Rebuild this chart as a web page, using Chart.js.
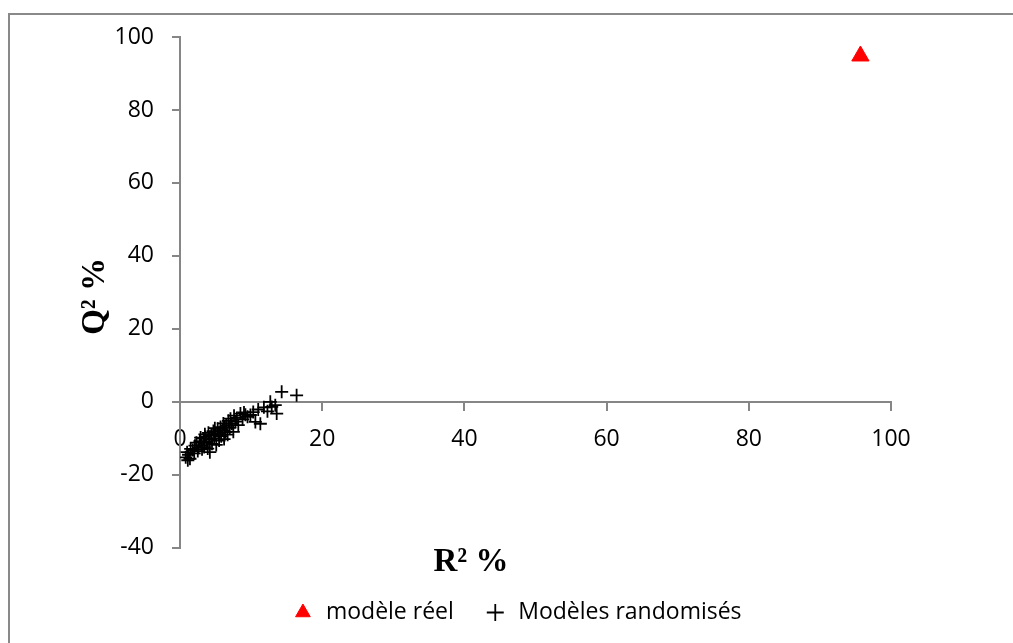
<!DOCTYPE html>
<html>
<head>
<meta charset="utf-8">
<script src="https://cdn.jsdelivr.net/npm/chart.js@4.4.1/dist/chart.umd.min.js"></script>
<style>
  html, body { margin: 0; padding: 0; background: #fff; overflow: hidden; }
  #frame { position: absolute; left: 8px; top: 13px; width: 1200px; height: 800px; border: 2px solid #898989; }
  #wrap { position: absolute; left: 0; top: 0; width: 1013px; height: 643px; }
</style>
</head>
<body>
<div id="frame"></div>
<div id="wrap"><canvas id="chart" width="1013" height="643"></canvas></div>
<script>
// real model (R2 %, Q2 %)
const realModel = [{ x: 95.7, y: 94.8 }];

// randomised models
const randR2 = [0.8, 1.0, 1.1, 1.2, 1.5, 1.4, 1.8, 2.0, 2.1, 2.3, 2.5, 2.6, 2.8, 3.0, 3.1, 3.3,
  3.4, 3.6, 3.7, 3.9, 4.0, 4.1, 4.2, 4.4, 4.5, 4.7, 4.8, 5.0, 5.1, 5.3, 5.4, 5.5,
  5.7, 5.8, 6.0, 6.1, 6.2, 6.4, 6.5, 6.7, 6.8, 7.0, 7.1, 7.3, 7.5, 7.6, 7.8, 8.0,
  8.2, 8.5, 8.8, 9.0, 9.2, 9.5, 9.9, 10.3, 10.6, 11.0, 11.3, 11.8, 12.3, 12.7, 12.9,
  13.4, 13.6, 14.3, 16.4, 2.9, 3.5, 4.9, 5.6, 6.3];
const randQ2 = [-15.2, -13.8, -16.0, -14.5, -12.9, -15.6, -13.2, -14.1, -12.0, -11.2, -13.5, -12.6, -10.8, -11.9, -13.0, -10.1,
  -12.4, -9.6, -11.0, -12.8, -8.5, -10.4, -13.8, -9.2, -11.5, -8.0, -10.0, -9.0, -11.8, -7.4, -8.8, -10.6,
  -6.9, -9.4, -7.8, -5.9, -10.2, -8.3, -6.5, -9.0, -5.2, -7.1, -4.6, -6.0, -8.2, -3.8, -5.4, -4.4,
  -6.4, -3.2, -4.8, -2.9, -3.5, -4.1, -3.6, -2.8, -5.5, -2.1, -6.0, -1.5, -2.6, 0.0, -1.4,
  -0.9, -3.2, 2.75, 1.8, -9.8, -8.9, -7.2, -8.6, -7.0];
const randModels = randR2.map((r, i) => ({ x: r, y: randQ2[i] }));

const xTicks = [0, 20, 40, 60, 80, 100];
const yTicks = [-40, -20, 0, 20, 40, 60, 80, 100];

const axisGray = '#868686';
const tickFont = { family: '"Open Sans", sans-serif', size: 23 };

// axis titles drawn by hand so they sit where Excel put them,
// and the legend nudged right to sit under the middle of the frame
const axisTitles = {
  id: 'axisTitles',
  afterLayout(chart) {
    chart.legend.left += 71;
    chart.legend.right += 71;
  },
  afterDraw(chart) {
    const { ctx, chartArea } = chart;
    ctx.save();
    ctx.fillStyle = '#000';
    ctx.font = 'bold 33px "Liberation Serif", serif';
    ctx.textAlign = 'center';
    ctx.textBaseline = 'middle';
    ctx.fillText('R² %', chartArea.left + 291, chartArea.bottom + 15);
    ctx.translate(95, (chartArea.top + chartArea.bottom) / 2 + 4);
    ctx.rotate(-Math.PI / 2);
    ctx.fillText('Q² %', 0, 0);
    ctx.restore();
  }
};

new Chart(document.getElementById('chart'), {
  type: 'scatter',
  data: {
    datasets: [
      {
        label: 'modèle réel',
        data: realModel,
        pointStyle: 'triangle',
        pointRadius: 10,
        backgroundColor: '#ff0000',
        borderColor: '#ff0000',
        borderWidth: 1
      },
      {
        label: 'Modèles randomisés',
        data: randModels,
        pointStyle: 'cross',
        pointRadius: 6.5,
        backgroundColor: '#000',
        borderColor: '#000',
        borderWidth: 1.8
      }
    ]
  },
  options: {
    responsive: false,
    animation: false,
    layout: { padding: { left: 0, right: 122, top: 37, bottom: 9 } },
    scales: {
      x: {
        type: 'linear',
        position: { y: 0 },
        min: 0,
        max: 100,
        afterBuildTicks: (s) => { s.ticks = xTicks.map(v => ({ value: v })); },
        grid: { drawOnChartArea: false, color: axisGray, lineWidth: 2, tickLength: 8 },
        border: { color: axisGray, width: 2 },
        ticks: { color: '#000', font: tickFont, padding: 16, maxRotation: 0 }
      },
      y: {
        type: 'linear',
        min: -40,
        max: 100,
        afterBuildTicks: (s) => { s.ticks = yTicks.map(v => ({ value: v })); },
        afterFit: (s) => { s.width = 180; },
        grid: { drawOnChartArea: false, color: axisGray, lineWidth: 2, tickLength: 8 },
        border: { color: axisGray, width: 2 },
        ticks: { color: '#000', font: tickFont, padding: 18 }
      }
    },
    plugins: {
      legend: {
        position: 'bottom',
        title: { display: true, text: ' ', font: { size: 1 }, padding: { top: 22, bottom: 0 } },
        labels: {
          usePointStyle: true,
          boxHeight: 12,
          color: '#000',
          font: { family: '"Open Sans", sans-serif', size: 23 },
          padding: 30
        }
      },
      tooltip: { enabled: false }
    }
  },
  plugins: [axisTitles]
});
</script>
</body>
</html>
